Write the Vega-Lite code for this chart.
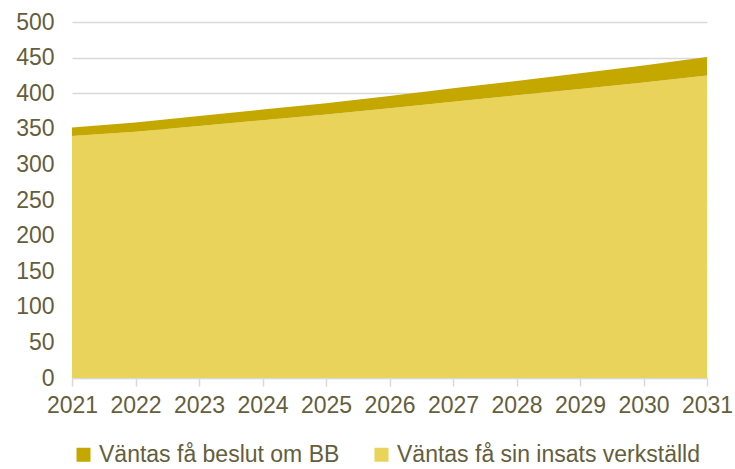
{
  "$schema": "https://vega.github.io/schema/vega-lite/v6.json",
  "width": 635,
  "height": 356,
  "autosize": {"type": "none"},
  "padding": {"left": 72, "top": 22, "right": 28, "bottom": 91},
  "background": "white",
  "config": {
    "view": {"stroke": null},
    "font": "Liberation Sans"
  },
  "data": {
    "values": [
      {"year": 2021, "series": "Väntas få sin insats verkställd", "value": 340},
      {"year": 2022, "series": "Väntas få sin insats verkställd", "value": 346},
      {"year": 2023, "series": "Väntas få sin insats verkställd", "value": 354},
      {"year": 2024, "series": "Väntas få sin insats verkställd", "value": 362},
      {"year": 2025, "series": "Väntas få sin insats verkställd", "value": 370},
      {"year": 2026, "series": "Väntas få sin insats verkställd", "value": 379},
      {"year": 2027, "series": "Väntas få sin insats verkställd", "value": 388},
      {"year": 2028, "series": "Väntas få sin insats verkställd", "value": 397},
      {"year": 2029, "series": "Väntas få sin insats verkställd", "value": 406},
      {"year": 2030, "series": "Väntas få sin insats verkställd", "value": 415},
      {"year": 2031, "series": "Väntas få sin insats verkställd", "value": 425},
      {"year": 2021, "series": "Väntas få beslut om BB", "value": 12},
      {"year": 2022, "series": "Väntas få beslut om BB", "value": 13},
      {"year": 2023, "series": "Väntas få beslut om BB", "value": 14},
      {"year": 2024, "series": "Väntas få beslut om BB", "value": 15},
      {"year": 2025, "series": "Väntas få beslut om BB", "value": 16},
      {"year": 2026, "series": "Väntas få beslut om BB", "value": 17},
      {"year": 2027, "series": "Väntas få beslut om BB", "value": 19},
      {"year": 2028, "series": "Väntas få beslut om BB", "value": 20},
      {"year": 2029, "series": "Väntas få beslut om BB", "value": 22},
      {"year": 2030, "series": "Väntas få beslut om BB", "value": 24},
      {"year": 2031, "series": "Väntas få beslut om BB", "value": 26}
    ]
  },
  "mark": {"type": "area", "opacity": 1},
  "encoding": {
    "x": {
      "field": "year",
      "type": "quantitative",
      "scale": {"domain": [2021, 2031], "nice": false, "zero": false},
      "axis": {
        "title": null,
        "values": [2021, 2022, 2023, 2024, 2025, 2026, 2027, 2028, 2029, 2030, 2031],
        "format": "d",
        "grid": false,
        "domainColor": "#D9D9D9",
        "domainWidth": 1.5,
        "tickColor": "#D9D9D9",
        "tickWidth": 1.5,
        "tickSize": 8,
        "labelFontSize": 23,
        "labelColor": "#645E3C",
        "labelPadding": 8,
        "labelFlush": false,
        "labelOverlap": false
      }
    },
    "y": {
      "field": "value",
      "type": "quantitative",
      "stack": "zero",
      "scale": {"domain": [0, 500], "nice": false},
      "axis": {
        "title": null,
        "values": [0, 50, 100, 150, 200, 250, 300, 350, 400, 450, 500],
        "grid": true,
        "gridColor": "#D9D9D9",
        "gridWidth": 1.5,
        "domain": false,
        "ticks": false,
        "labelFontSize": 23,
        "labelColor": "#645E3C",
        "labelPadding": 18,
        "labelOverlap": false
      }
    },
    "color": {
      "field": "series",
      "type": "nominal",
      "scale": {
        "domain": ["Väntas få beslut om BB", "Väntas få sin insats verkställd"],
        "range": ["#C4A800", "#E9D35B"]
      },
      "legend": {
        "title": null,
        "orient": "bottom",
        "direction": "horizontal",
        "symbolType": "square",
        "symbolSize": 196,
        "symbolStrokeWidth": 0,
        "labelFontSize": 23,
        "labelColor": "#645E3C",
        "labelLimit": 400,
        "labelOffset": 4,
        "columnPadding": 30,
        "symbolOffset": 0,
        "offset": 26
      }
    },
    "order": {"field": "series", "sort": "descending"}
  }
}
